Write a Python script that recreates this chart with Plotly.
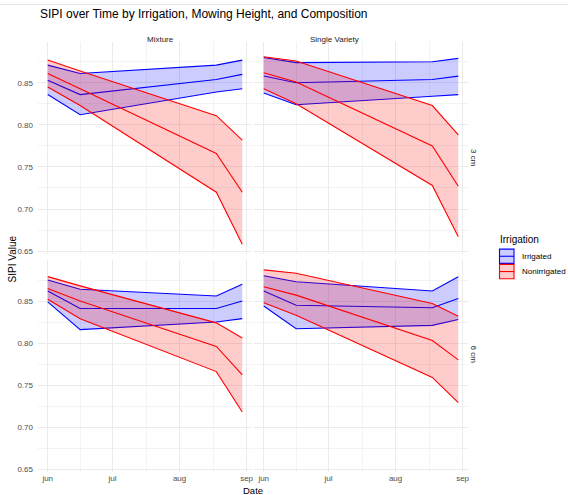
import plotly.graph_objects as go

# ---------------- data ----------------
dates = ["2023-06-01", "2023-06-16", "2023-08-18", "2023-08-30"]

compositions = ["Mixture", "Single Variety"]
heights = ["3 cm", "6 cm"]
irrigation_levels = ["Irrigated", "Nonirrigated"]

# Mixture, 3 cm
mix3_irr_lower = [0.836, 0.812, 0.839, 0.843]
mix3_irr_mean = [0.853, 0.836, 0.854, 0.860]
mix3_irr_upper = [0.871, 0.861, 0.871, 0.877]
mix3_non_lower = [0.845, 0.823, 0.720, 0.658]
mix3_non_mean = [0.861, 0.843, 0.766, 0.720]
mix3_non_upper = [0.877, 0.864, 0.811, 0.782]

# Single Variety, 3 cm
sv3_irr_lower = [0.838, 0.824, 0.834, 0.836]
sv3_irr_mean = [0.858, 0.850, 0.854, 0.858]
sv3_irr_upper = [0.880, 0.874, 0.875, 0.879]
sv3_non_lower = [0.843, 0.825, 0.728, 0.667]
sv3_non_mean = [0.862, 0.851, 0.775, 0.727]
sv3_non_upper = [0.881, 0.876, 0.823, 0.788]

# Mixture, 6 cm
mix6_irr_lower = [0.849, 0.816, 0.825, 0.829]
mix6_irr_mean = [0.862, 0.841, 0.841, 0.850]
mix6_irr_upper = [0.875, 0.864, 0.856, 0.870]
mix6_non_lower = [0.852, 0.829, 0.766, 0.718]
mix6_non_mean = [0.865, 0.850, 0.796, 0.762]
mix6_non_upper = [0.879, 0.868, 0.824, 0.806]

# Single Variety, 6 cm
sv6_irr_lower = [0.844, 0.817, 0.821, 0.828]
sv6_irr_mean = [0.862, 0.845, 0.842, 0.853]
sv6_irr_upper = [0.880, 0.873, 0.862, 0.879]
sv6_non_lower = [0.848, 0.833, 0.759, 0.729]
sv6_non_mean = [0.867, 0.857, 0.803, 0.780]
sv6_non_upper = [0.887, 0.883, 0.847, 0.832]

y_tick_vals = [0.65, 0.70, 0.75, 0.80, 0.85]
y_minor_vals = [0.675, 0.725, 0.775, 0.825, 0.875]
x_tick_vals = ["2023-06-01", "2023-07-01", "2023-08-01", "2023-09-01"]
x_tick_text = ["jun", "jul", "aug", "sep"]
x_minor_vals = ["2023-06-16", "2023-07-16 12:00", "2023-08-16 12:00"]

# ---------------- style ----------------
FONT = "Liberation Sans, Arial, sans-serif"
line_colors = {"Irrigated": "#0000ff", "Nonirrigated": "#ff0000"}
fill_colors = {"Irrigated": "rgba(0,0,255,0.2)", "Nonirrigated": "rgba(255,0,0,0.2)"}

W, H = 568, 495
ML, MR, MT, MB = 38, 100, 42, 17
PW, PH = W - ML - MR, H - MT - MB


def px_x(v):
    return (v - ML) / PW


def px_y(v):
    return (H - MB - v) / PH


panels = [
    ("", "Mixture", "3 cm", {"Irrigated": (mix3_irr_lower, mix3_irr_mean, mix3_irr_upper),
                              "Nonirrigated": (mix3_non_lower, mix3_non_mean, mix3_non_upper)}),
    ("2", "Single Variety", "3 cm", {"Irrigated": (sv3_irr_lower, sv3_irr_mean, sv3_irr_upper),
                                      "Nonirrigated": (sv3_non_lower, sv3_non_mean, sv3_non_upper)}),
    ("3", "Mixture", "6 cm", {"Irrigated": (mix6_irr_lower, mix6_irr_mean, mix6_irr_upper),
                               "Nonirrigated": (mix6_non_lower, mix6_non_mean, mix6_non_upper)}),
    ("4", "Single Variety", "6 cm", {"Irrigated": (sv6_irr_lower, sv6_irr_mean, sv6_irr_upper),
                                      "Nonirrigated": (sv6_non_lower, sv6_non_mean, sv6_non_upper)}),
]

fig = go.Figure()
for suf, comp, hgt, data in panels:
    xa, ya = "x" + suf, "y" + suf
    for lvl in irrigation_levels:
        lo, mn, up = data[lvl]
        lc = line_colors[lvl]
        fig.add_trace(go.Scatter(x=dates, y=lo, mode="lines", xaxis=xa, yaxis=ya,
                                 line=dict(color=lc, width=1.1), showlegend=False,
                                 hoverinfo="skip"))
        fig.add_trace(go.Scatter(x=dates, y=up, mode="lines", xaxis=xa, yaxis=ya,
                                 line=dict(color=lc, width=1.1), fill="tonexty",
                                 fillcolor=fill_colors[lvl], showlegend=False,
                                 hoverinfo="skip"))
        fig.add_trace(go.Scatter(x=dates, y=mn, mode="lines", xaxis=xa, yaxis=ya,
                                 line=dict(color=lc, width=1.1), showlegend=False,
                                 name=lvl))

x_range = ["2023-05-27 12:00", "2023-09-03 12:00"]
y_range = [0.6465, 0.8985]

x_dom_left = [0, px_x(252)]
x_dom_right = [px_x(254), 1]
y_dom_top = [px_y(257), 1]
y_dom_bot = [0, px_y(263.3)]

grid_major = "#ebebeb"
grid_minor = "#f3f3f3"
tick_font = dict(family=FONT, size=8, color="#4d4d4d")


def xaxis(domain, anchor, show_labels):
    return dict(domain=domain, anchor=anchor, type="date", range=x_range,
                tickvals=x_tick_vals, ticktext=x_tick_text, showticklabels=show_labels,
                showgrid=True, gridcolor=grid_major, gridwidth=1, zeroline=False,
                showline=False, ticks="", tickfont=tick_font,
                minor=dict(tickvals=x_minor_vals, showgrid=True, gridcolor=grid_minor,
                           gridwidth=0.6, ticks=""))


def yaxis(domain, anchor, show_labels):
    return dict(domain=domain, anchor=anchor, range=y_range, tickvals=y_tick_vals,
                tickformat=".2f", showticklabels=show_labels, showgrid=True,
                gridcolor=grid_major, gridwidth=1, zeroline=False, showline=False,
                ticks="", tickfont=tick_font, ticklabelstandoff=4,
                minor=dict(tickvals=y_minor_vals, showgrid=True, gridcolor=grid_minor,
                           gridwidth=0.6, ticks=""))


annotations = [
    dict(text="SIPI over Time by Irrigation, Mowing Height, and Composition",
         x=px_x(38), y=px_y(14), xref="paper", yref="paper", xanchor="left",
         yanchor="middle", showarrow=False, font=dict(family=FONT, size=12, color="#000000")),
    dict(text=compositions[0], x=px_x(145), y=px_y(33), xref="paper", yref="paper",
         showarrow=False, font=dict(family=FONT, size=8, color="#1a1a1a")),
    dict(text=compositions[1], x=px_x(361), y=px_y(33), xref="paper", yref="paper",
         showarrow=False, font=dict(family=FONT, size=8, color="#1a1a1a")),
    dict(text=heights[0], x=px_x(480), y=px_y(149), xref="paper", yref="paper",
         textangle=90, showarrow=False, font=dict(family=FONT, size=8, color="#1a1a1a")),
    dict(text=heights[1], x=px_x(480), y=px_y(370.5), xref="paper", yref="paper",
         textangle=90, showarrow=False, font=dict(family=FONT, size=8, color="#1a1a1a")),
    dict(text="SIPI Value", x=px_x(5), y=px_y(262), xref="paper", yref="paper",
         textangle=-90, showarrow=False, font=dict(family=FONT, size=10, color="#000000")),
    dict(text="Date", x=px_x(253), y=px_y(489.5), xref="paper", yref="paper",
         yanchor="top", showarrow=False, font=dict(family=FONT, size=9.5, color="#000000")),
    dict(text="Irrigation", x=px_x(498), y=px_y(242.5), xref="paper", yref="paper",
         xanchor="left", showarrow=False, font=dict(family=FONT, size=10, color="#000000")),
]

shapes = [
    dict(type="line", xref="paper", yref="paper", x0=px_x(0), x1=px_x(W),
         y0=px_y(4), y1=px_y(4), line=dict(color="#e3e3e3", width=1)),
]

# manual legend keys (ggplot-style)
key_tops = [252, 267.5]
for lvl, top in zip(irrigation_levels, key_tops):
    bot = top + 14.5
    shapes.append(dict(type="rect", xref="paper", yref="paper",
                       x0=px_x(499.5), x1=px_x(514), y0=px_y(bot), y1=px_y(top),
                       fillcolor=fill_colors[lvl], line=dict(color=line_colors[lvl], width=1.1)))
    mid = (top + bot) / 2
    shapes.append(dict(type="line", xref="paper", yref="paper",
                       x0=px_x(499.5), x1=px_x(514), y0=px_y(mid), y1=px_y(mid),
                       line=dict(color=line_colors[lvl], width=1.1)))
    annotations.append(dict(text=lvl, x=px_x(519.5), y=px_y(mid), xref="paper", yref="paper",
                            xanchor="left", showarrow=False,
                            font=dict(family=FONT, size=8, color="#000000")))

fig.update_layout(
    width=W, height=H,
    margin=dict(l=ML, r=MR, t=MT, b=MB, pad=0),
    paper_bgcolor="white", plot_bgcolor="white",
    showlegend=False,
    font=dict(family=FONT),
    xaxis=xaxis(x_dom_left, "y", False),
    xaxis2=xaxis(x_dom_right, "y2", False),
    xaxis3=xaxis(x_dom_left, "y3", True),
    xaxis4=xaxis(x_dom_right, "y4", True),
    yaxis=yaxis(y_dom_top, "x", True),
    yaxis2=yaxis(y_dom_top, "x2", False),
    yaxis3=yaxis(y_dom_bot, "x3", True),
    yaxis4=yaxis(y_dom_bot, "x4", False),
    annotations=annotations,
    shapes=shapes,
)

fig.write_html("out.html")
